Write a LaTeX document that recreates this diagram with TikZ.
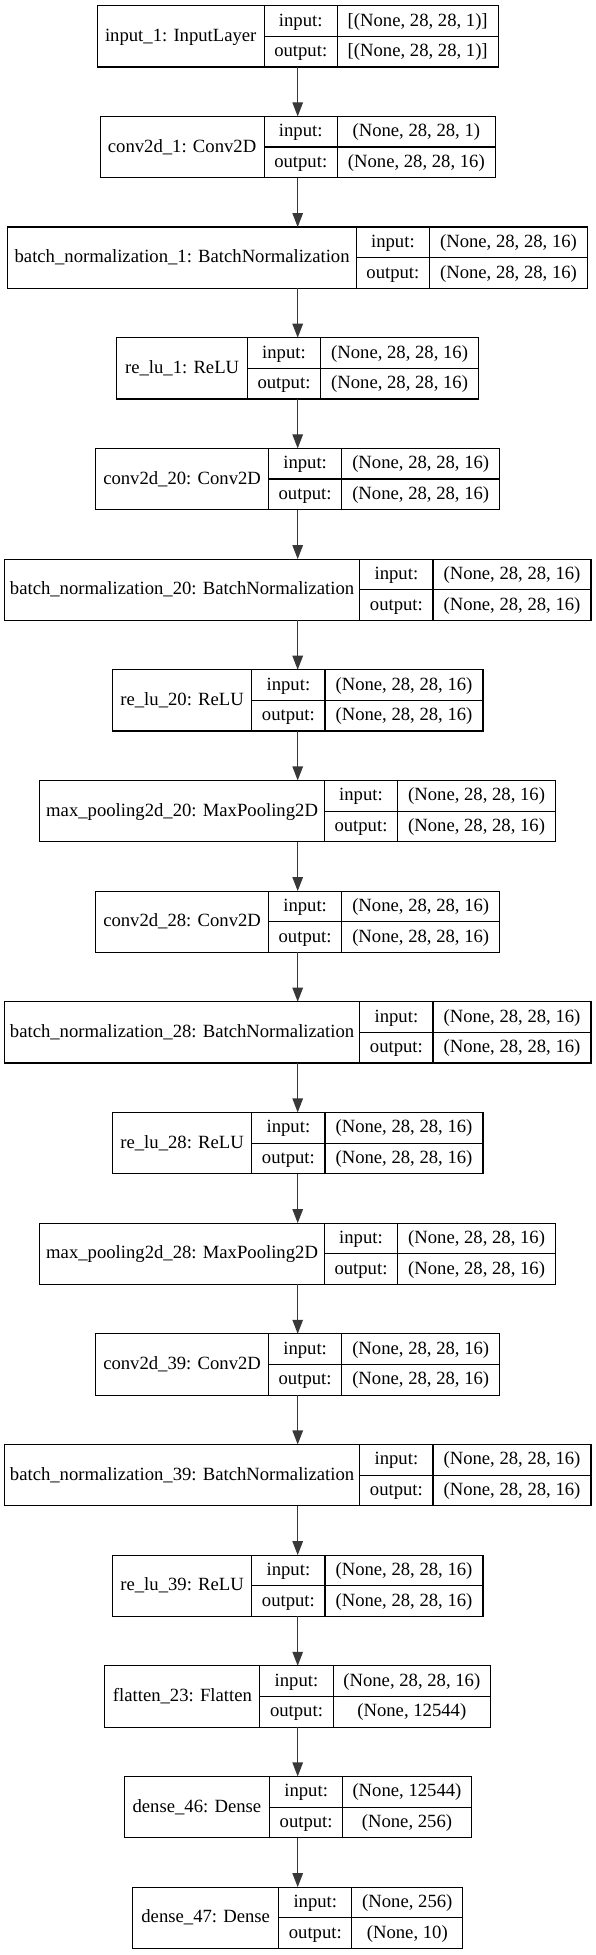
\documentclass[tikz,border=0pt]{standalone}
\usepackage{fontspec}
\setmainfont{Liberation Serif}
\usetikzlibrary{arrows.meta}
\tikzset{
  boxframe/.style={draw=black, line width=1.1pt, rectangle, inner sep=0pt, outer sep=0pt, minimum height=61.3pt},
  cellline/.style={draw=black, line width=1.1pt},
  txt/.style={inner sep=0pt, outer sep=0pt, text height=14pt, text depth=4pt, font=\fontsize{18.67}{22}\selectfont},
  conn/.style={draw=black!78, line width=1.2pt, -{Triangle[length=14pt,width=10.5pt]}}
}
\newcommand\kerasbox[7]{%
  \pgfmathsetmacro\kbW{#3+73.2+#4}%
  \pgfmathsetmacro\kbT{5.7+110.67*#2}%
  \pgfmathsetmacro\kbL{297.7-\kbW/2}%
  \pgfmathsetmacro\kbA{\kbL+#3}%
  \pgfmathsetmacro\kbB{\kbA+73.2}%
  \pgfmathsetmacro\kbR{\kbL+\kbW}%
  \node[boxframe, minimum width=\kbW pt] (#1) at (297.7,\kbT+30.65) {};
  \draw[cellline] (\kbA,\kbT) -- (\kbA,\kbT+61.3) (\kbB,\kbT) -- (\kbB,\kbT+61.3) (\kbA,\kbT+30.65) -- (\kbR,\kbT+30.65);
  \node[txt] (#1-l) at ({(\kbL+\kbA)/2},\kbT+30.65) {#5};
  \node[txt] (#1-i) at ({(\kbA+\kbB)/2},\kbT+15.3) {input:};
  \node[txt] (#1-o) at ({(\kbA+\kbB)/2},\kbT+46) {output:};
  \node[txt] (#1-vi) at ({(\kbB+\kbR)/2},\kbT+15.3) {#6};
  \node[txt] (#1-vo) at ({(\kbB+\kbR)/2},\kbT+46) {#7};
}
\begin{document}
\begin{tikzpicture}[x=1pt,y=-1pt]
\fill[white] (0,0) rectangle (596,1955);
\useasboundingbox (0,0) rectangle (596,1955);
\kerasbox{b1}{0}{166.8}{160.7}{input\_1: InputLayer}{[(None, 28, 28, 1)]}{[(None, 28, 28, 1)]}
\kerasbox{b2}{1}{164.1}{158}{conv2d\_1: Conv2D}{(None, 28, 28, 1)}{(None, 28, 28, 16)}
\kerasbox{b3}{2}{348.4}{158}{batch\_normalization\_1: BatchNormalization}{(None, 28, 28, 16)}{(None, 28, 28, 16)}
\kerasbox{b4}{3}{130.6}{158}{re\_lu\_1: ReLU}{(None, 28, 28, 16)}{(None, 28, 28, 16)}
\kerasbox{b5}{4}{172.8}{158}{conv2d\_20: Conv2D}{(None, 28, 28, 16)}{(None, 28, 28, 16)}
\kerasbox{b6}{5}{355.4}{158}{batch\_normalization\_20: BatchNormalization}{(None, 28, 28, 16)}{(None, 28, 28, 16)}
\kerasbox{b7}{6}{139.4}{158}{re\_lu\_20: ReLU}{(None, 28, 28, 16)}{(None, 28, 28, 16)}
\kerasbox{b8}{7}{284.6}{158}{max\_pooling2d\_20: MaxPooling2D}{(None, 28, 28, 16)}{(None, 28, 28, 16)}
\kerasbox{b9}{8}{172.8}{158}{conv2d\_28: Conv2D}{(None, 28, 28, 16)}{(None, 28, 28, 16)}
\kerasbox{b10}{9}{355.4}{158}{batch\_normalization\_28: BatchNormalization}{(None, 28, 28, 16)}{(None, 28, 28, 16)}
\kerasbox{b11}{10}{139.4}{158}{re\_lu\_28: ReLU}{(None, 28, 28, 16)}{(None, 28, 28, 16)}
\kerasbox{b12}{11}{284.6}{158}{max\_pooling2d\_28: MaxPooling2D}{(None, 28, 28, 16)}{(None, 28, 28, 16)}
\kerasbox{b13}{12}{172.8}{158}{conv2d\_39: Conv2D}{(None, 28, 28, 16)}{(None, 28, 28, 16)}
\kerasbox{b14}{13}{355.4}{158}{batch\_normalization\_39: BatchNormalization}{(None, 28, 28, 16)}{(None, 28, 28, 16)}
\kerasbox{b15}{14}{139.4}{158}{re\_lu\_39: ReLU}{(None, 28, 28, 16)}{(None, 28, 28, 16)}
\kerasbox{b16}{15}{155}{157.4}{flatten\_23: Flatten}{(None, 28, 28, 16)}{(None, 12544)}
\kerasbox{b17}{16}{145.3}{128.4}{dense\_46: Dense}{(None, 12544)}{(None, 256)}
\kerasbox{b18}{17}{146}{110.8}{dense\_47: Dense}{(None, 256)}{(None, 10)}
\foreach \a [evaluate=\a as \b using int(\a+1)] in {1,...,17}
  \draw[conn] (b\a.south) -- (b\b.north);
\end{tikzpicture}
\end{document}
